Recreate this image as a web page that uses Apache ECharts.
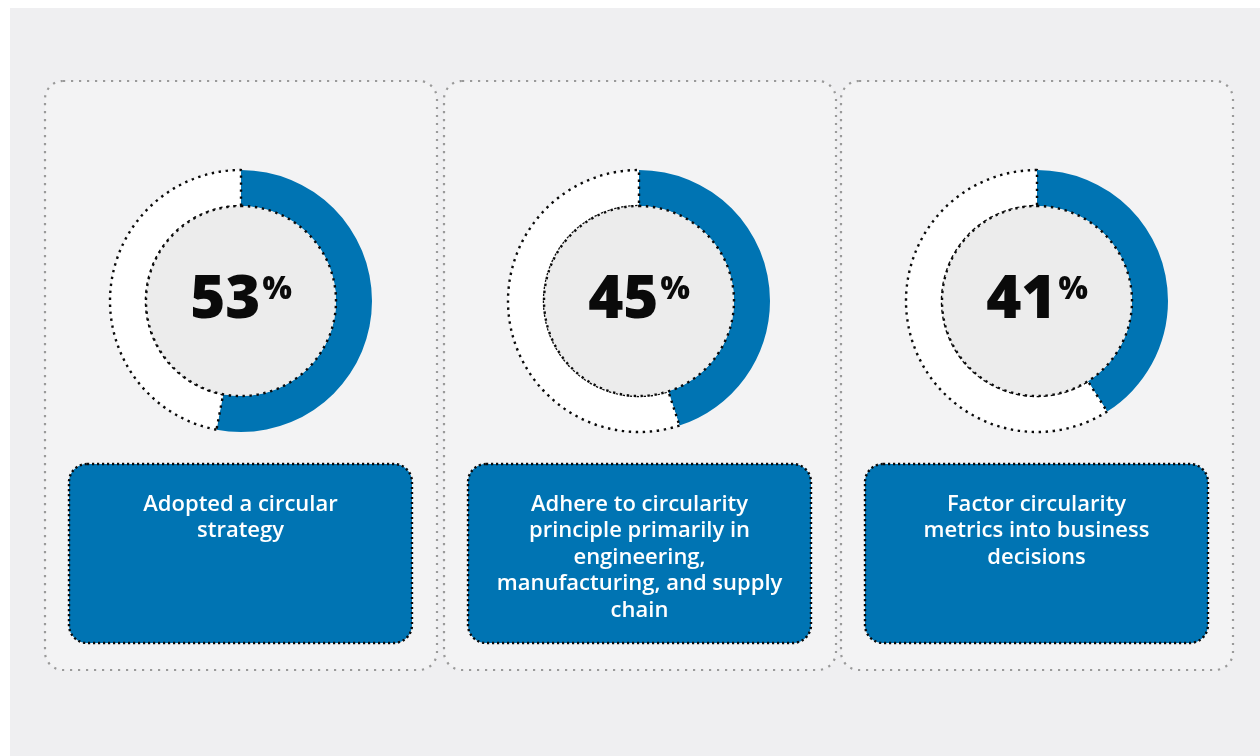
<!DOCTYPE html>
<html>
<head>
<meta charset="utf-8">
<script src="https://cdn.jsdelivr.net/npm/echarts@6/dist/echarts.min.js"></script>
<style>
html,body{margin:0;padding:0;background:#ffffff;}
#chart{width:1260px;height:756px;}
</style>
</head>
<body>
<div id="chart"></div>
<script>
// ---- data ----
const values = [53, 45, 41];
const valueSuffix = '%';
const captions = [
  'Adopted a circular\nstrategy',
  'Adhere to circularity\nprinciple primarily in\nengineering,\nmanufacturing, and supply\nchain',
  'Factor circularity\nmetrics into business\ndecisions'
];

// ---- layout ----
const cardX = [45, 444, 841];
const cardW = 392;
const cardY = 81, cardH = 589;
const centersX = [241, 639, 1037];
const centerY = 301;
const rOuter = 131, rInner = 95;
const boxOffset = 24, boxW = 343, boxY = 464, boxH = 179;

const BLUE = '#0074b3';

const chart = echarts.init(document.getElementById('chart'), null, {renderer: 'canvas'});

const graphics = [
  {type: 'rect', shape: {x: 10, y: 8, width: 1260, height: 760}, style: {fill: '#efeff1'}, z: -10}
];
cardX.forEach((x, i) => {
  graphics.push({
    type: 'rect', shape: {x: x, y: cardY, width: cardW, height: cardH, r: 18},
    style: {fill: '#f3f3f4', stroke: '#9a9a9a', lineWidth: 2.2, lineDash: [2.2, 5.8]}, z: -5
  });
  graphics.push({
    type: 'rect', shape: {x: x + boxOffset, y: boxY, width: boxW, height: boxH, r: 18},
    style: {fill: BLUE, stroke: '#0a0a0a', lineWidth: 2.4, lineDash: [2.2, 2.8]}, z: -4
  });
  graphics.push({
    type: 'text', x: x + boxOffset + boxW / 2, y: 491, z: 10,
    style: {
      text: captions[i], fill: '#ffffff', align: 'center', verticalAlign: 'top',
      font: '600 22px "Open Sans"', lineHeight: 26.5
    }
  });
});

const dotted = {borderColor: '#0a0a0a', borderWidth: 2.4, borderType: [2.4, 4.6]};

const series = [];
values.forEach((v, i) => {
  series.push({
    type: 'pie', center: [centersX[i], centerY], radius: [rInner, rOuter],
    startAngle: 90, clockwise: true, silent: true, animation: false, z: 2,
    label: {show: false}, labelLine: {show: false},
    data: [
      {value: v, itemStyle: {color: BLUE, borderWidth: 0}},
      {value: 100 - v, itemStyle: Object.assign({color: '#ffffff'}, dotted)}
    ]
  });
  series.push({
    type: 'pie', center: [centersX[i], centerY], radius: [0, rInner],
    silent: true, animation: false, labelLine: {show: false}, z: 3,
    itemStyle: Object.assign({color: '#ececec'}, dotted),
    label: {
      show: true, position: 'center',
      formatter: '{n|' + v + '}{p|' + valueSuffix + '}',
      rich: {
        n: {fontFamily: 'Open Sans', fontWeight: 800, fontSize: 60, color: '#0a0a0a', lineHeight: 66},
        p: {fontFamily: 'Open Sans', fontWeight: 800, fontSize: 31, color: '#0a0a0a', verticalAlign: 'top', lineHeight: 66, padding: [7, 0, 0, 2]}
      }
    },
    data: [{value: 1}]
  });
});

chart.setOption({
  backgroundColor: '#ffffff',
  animation: false,
  graphic: graphics,
  series: series
});
</script>
</body>
</html>
